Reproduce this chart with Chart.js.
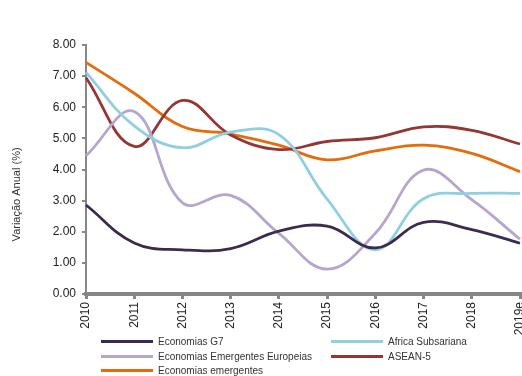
<!DOCTYPE html>
<html>
<head>
<meta charset="utf-8">
<script src="https://cdn.jsdelivr.net/npm/chart.js@4/dist/chart.umd.min.js"></script>
<style>
    html, body { margin: 0; padding: 0; background: #fff; overflow: hidden; }
    body { width: 522px; height: 376px; position: relative; font-family: 'Liberation Sans', Arial, sans-serif; }
    #wrap { position: absolute; left: 0; top: 0; width: 560px; height: 376px; }
    #legend { position: absolute; left: 0; top: 0; width: 522px; height: 376px; pointer-events: none; }
    .leg-item { position: absolute; display: flex; align-items: center; font-size: 10px; color: #333; white-space: nowrap; }
    .leg-line { width: 52px; height: 3px; margin-right: 5px; }
</style>
</head>
<body>
<div id="wrap"><canvas id="chart" width="560" height="376"></canvas></div>
<div id="legend"></div>
<script>
const years = ['2010', '2011', '2012', '2013', '2014', '2015', '2016', '2017', '2018', '2019e'];
const yTicks = [0, 1, 2, 3, 4, 5, 6, 7, 8];
const yTitle = 'Variação Anual (%)';

const g7 = [2.86, 1.64, 1.42, 1.46, 2.02, 2.18, 1.48, 2.30, 2.07, 1.63];
const africa = [7.12, 5.40, 4.70, 5.20, 5.12, 3.05, 1.42, 3.06, 3.23, 3.23];
const europeias = [4.44, 5.86, 2.93, 3.17, 1.95, 0.80, 1.95, 3.98, 3.03, 1.76];
const asean = [6.95, 4.74, 6.22, 5.11, 4.64, 4.90, 5.02, 5.37, 5.26, 4.82];
const emergentes = [7.44, 6.45, 5.38, 5.14, 4.78, 4.31, 4.60, 4.78, 4.52, 3.93];

const series = [
    { label: 'Economias G7', data: g7, color: '#3c2b4f' },
    { label: 'Africa Subsariana', data: africa, color: '#8fcfdf' },
    { label: 'Economias Emergentes Europeias', data: europeias, color: '#b6a5cc' },
    { label: 'ASEAN-5', data: asean, color: '#943634' },
    { label: 'Economias emergentes', data: emergentes, color: '#e46c0a' }
];

const axisGray = '#878787';

// y axis title sits a bit below the middle of the plot
const yTitlePlugin = {
    id: 'yTitle',
    afterDraw(chart) {
        const { ctx, chartArea } = chart;
        const cy = chartArea.top + (chartArea.bottom - chartArea.top) * 0.6;
        ctx.save();
        ctx.translate(17, cy);
        ctx.rotate(-Math.PI / 2);
        ctx.font = '11px "Liberation Sans"';
        ctx.fillStyle = '#333';
        ctx.textAlign = 'center';
        ctx.textBaseline = 'middle';
        ctx.fillText(yTitle, 0, 0);
        ctx.restore();
    }
};

const ctx = document.getElementById('chart').getContext('2d');
new Chart(ctx, {
    type: 'line',
    data: {
        labels: years,
        datasets: series.map(s => ({
            label: s.label,
            data: s.data,
            borderColor: s.color,
            backgroundColor: s.color,
            borderWidth: 2.8,
            tension: 0.4,
            pointRadius: 0,
            fill: false
        }))
    },
    options: {
        responsive: false,
        animation: false,
        layout: { padding: { top: 45, right: 40, bottom: 0, left: 0 } },
        plugins: {
            legend: { display: false },
            tooltip: { enabled: false }
        },
        scales: {
            x: {
                offset: false,
                afterFit: scale => { scale.height = 82; },
                grid: { drawOnChartArea: false, drawTicks: true, tickLength: 5, color: axisGray, lineWidth: 3 },
                border: { color: axisGray, width: 4 },
                ticks: {
                    minRotation: 90,
                    maxRotation: 90,
                    autoSkip: false,
                    padding: 3,
                    color: '#222',
                    font: { family: 'Liberation Sans', size: 12 }
                }
            },
            y: {
                min: 0,
                max: 8,
                afterFit: scale => { scale.width = 86; },
                afterBuildTicks: scale => { scale.ticks = yTicks.map(v => ({ value: v })); },
                grid: { drawOnChartArea: false, drawTicks: true, tickLength: 4, color: axisGray, lineWidth: 2 },
                border: { color: axisGray, width: 2 },
                ticks: {
                    padding: 6,
                    color: '#222',
                    font: { family: 'Liberation Sans', size: 12 },
                    callback: v => Number(v).toFixed(2)
                }
            }
        }
    },
    plugins: [yTitlePlugin]
});

// legend in two columns under the axis
const legendEl = document.getElementById('legend');
const colX = [101, 331];
const rowY = [336, 351, 365];
series.forEach((s, i) => {
    const item = document.createElement('div');
    item.className = 'leg-item';
    item.style.left = colX[i % 2] + 'px';
    item.style.top = rowY[Math.floor(i / 2)] + 'px';
    item.innerHTML = `<span class="leg-line" style="background:${s.color}"></span><span>${s.label}</span>`;
    legendEl.appendChild(item);
});
</script>
</body>
</html>
